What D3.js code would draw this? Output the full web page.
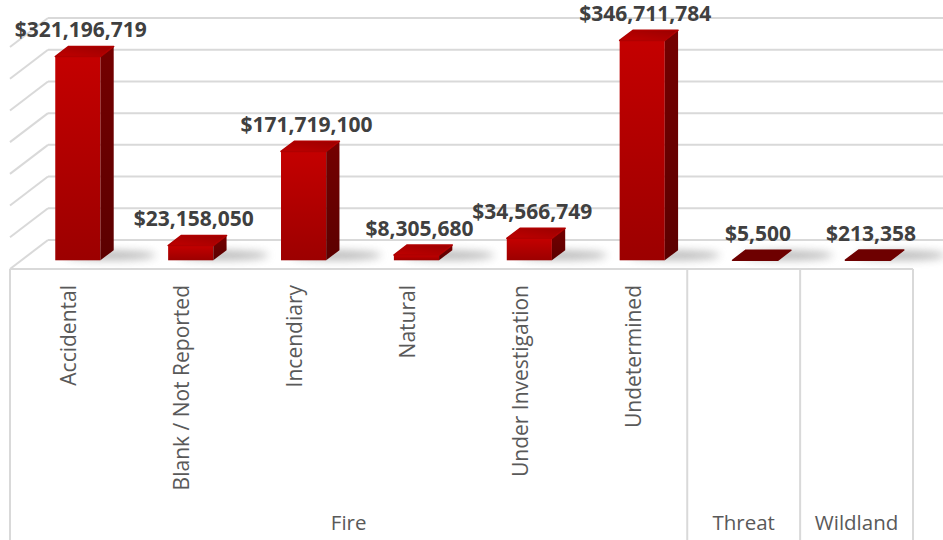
<!DOCTYPE html>
<html>
<head>
<meta charset="utf-8">
<script src="https://cdn.jsdelivr.net/npm/d3@7"></script>
<style>
  html, body { margin: 0; padding: 0; background: #ffffff; }
  svg { display: block; }
</style>
</head>
<body>
<svg id="chart" width="943" height="540"></svg>
<script>
// Fire loss by cause, grouped by incident type
const categories = ["Accidental", "Blank / Not Reported", "Incendiary", "Natural",
                    "Under Investigation", "Undetermined", "", ""];
const groupNames = ["Fire", "Fire", "Fire", "Fire", "Fire", "Fire", "Threat", "Wildland"];
const losses = [321196719, 23158050, 171719100, 8305680, 34566749, 346711784, 5500, 213358];
const yTicks = [0, 50e6, 100e6, 150e6, 200e6, 250e6, 300e6, 350e6];

const svg = d3.select("#chart");

// oblique 3D layout: front plane, and a depth vector pointing back/right
const frontLeft = 10, frontRight = 913, floorFront = 269;
const depth = { dx: 38, dy: -29 };
const barDepth0 = 0.30, barDepth1 = 0.65;

const slots = d3.range(categories.length);
const x = d3.scaleBand().domain(slots).range([frontLeft, frontRight]).padding(0);
const h = d3.scaleLinear().domain([0, 350e6]).range([0, 222]);
const fmt = d3.format("$,");

const defs = svg.append("defs");
const gFront = defs.append("linearGradient").attr("id", "front")
  .attr("x1", 0).attr("y1", 0).attr("x2", 0).attr("y2", 1);
gFront.append("stop").attr("offset", "0%").attr("stop-color", "#c40000");
gFront.append("stop").attr("offset", "100%").attr("stop-color", "#9c0000");
const gSide = defs.append("linearGradient").attr("id", "side")
  .attr("x1", 0).attr("y1", 0).attr("x2", 0).attr("y2", 1);
gSide.append("stop").attr("offset", "0%").attr("stop-color", "#740000");
gSide.append("stop").attr("offset", "100%").attr("stop-color", "#5c0000");
const gTop = defs.append("linearGradient").attr("id", "top")
  .attr("x1", 0).attr("y1", 1).attr("x2", 1).attr("y2", 0);
gTop.append("stop").attr("offset", "0%").attr("stop-color", "#c00000");
gTop.append("stop").attr("offset", "100%").attr("stop-color", "#9a0000");
defs.append("filter").attr("id", "soft").attr("x", "-50%").attr("y", "-200%")
  .attr("width", "200%").attr("height", "500%")
  .append("feGaussianBlur").attr("stdDeviation", 4.5);

const grid = "#d9d9d9";
const wallLeft = frontLeft + depth.dx;
const wallBottom = floorFront + depth.dy;

// back wall gridlines and the matching lines on the left wall
const gGrid = svg.append("g");
yTicks.forEach(v => {
  const gy = wallBottom - h(v);
  gGrid.append("line").attr("x1", wallLeft).attr("x2", 943)
    .attr("y1", gy).attr("y2", gy).attr("stroke", grid).attr("stroke-width", 2);
  gGrid.append("line").attr("x1", wallLeft).attr("y1", gy)
    .attr("x2", frontLeft).attr("y2", gy - depth.dy)
    .attr("stroke", grid).attr("stroke-width", 2);
});

// floor front edge
svg.append("line").attr("x1", frontLeft).attr("x2", frontRight)
  .attr("y1", floorFront).attr("y2", floorFront)
  .attr("stroke", grid).attr("stroke-width", 2);

// category axis frame: outer lines and group dividers
const groups = [];
groupNames.forEach((g, i) => {
  const last = groups[groups.length - 1];
  if (last && last.name === g) last.end = i; else groups.push({ name: g, start: i, end: i });
});
const frameBottom = 540;
svg.append("line").attr("x1", frontLeft).attr("x2", frontLeft)
  .attr("y1", floorFront).attr("y2", frameBottom).attr("stroke", grid).attr("stroke-width", 2);
groups.forEach(g => {
  const xr = x(g.end) + x.bandwidth();
  svg.append("line").attr("x1", xr).attr("x2", xr)
    .attr("y1", floorFront).attr("y2", frameBottom).attr("stroke", grid).attr("stroke-width", 2);
  const xl = x(g.start);
  svg.append("text").attr("x", (xl + xr) / 2).attr("y", 530)
    .attr("text-anchor", "middle")
    .attr("font-family", "'Open Sans', sans-serif").attr("font-size", 20.5)
    .attr("fill", "#595959").text(g.name);
});

// rotated category labels
categories.forEach((c, i) => {
  if (!c) return;
  const cx = x(i) + x.bandwidth() / 2 + 10;
  svg.append("text")
    .attr("transform", `translate(${cx},285) rotate(-90)`)
    .attr("text-anchor", "end")
    .attr("font-family", "'Open Sans', sans-serif").attr("font-size", 21)
    .attr("fill", "#595959").text(c);
});

// bars
const barW = x.bandwidth() * 0.4;
const off0 = { dx: depth.dx * barDepth0, dy: depth.dy * barDepth0 };
const dd = { dx: depth.dx * (barDepth1 - barDepth0), dy: depth.dy * (barDepth1 - barDepth0) };
const baseY = floorFront + off0.dy;

const bars = svg.append("g");
losses.forEach((v, i) => {
  const xl = x(i) + x.bandwidth() / 2 + off0.dx - barW / 2;
  const xr = xl + barW;
  const top = baseY - h(v);

  // soft shadow on the floor
  bars.append("ellipse")
    .attr("cx", xr + 10).attr("cy", baseY - 5)
    .attr("rx", barW * 1.0).attr("ry", 4.5)
    .attr("fill", "#7a7a7a").attr("opacity", 0.55)
    .attr("filter", "url(#soft)");

  // front face
  bars.append("rect").attr("x", xl).attr("y", top)
    .attr("width", barW).attr("height", Math.max(0, baseY - top))
    .attr("fill", "url(#front)");
  // side face
  bars.append("path")
    .attr("d", `M${xr},${top}L${xr + dd.dx},${top + dd.dy}L${xr + dd.dx},${baseY + dd.dy}L${xr},${baseY}Z`)
    .attr("fill", "url(#side)");
  // top face
  const flat = baseY - top < 2;
  bars.append("path")
    .attr("d", `M${xl},${top}L${xl + dd.dx},${top + dd.dy}L${xr + dd.dx},${top + dd.dy}L${xr},${top}Z`)
    .attr("fill", flat ? "#6e0000" : "url(#top)")
    .attr("stroke", flat ? "#6e0000" : "#b00000").attr("stroke-width", 1.5)
    .attr("stroke-linejoin", "round");

  // value label
  svg.append("text")
    .attr("x", xl + barW / 2 + 3).attr("y", top + dd.dy - 9)
    .attr("text-anchor", "middle")
    .attr("font-family", "'Open Sans', sans-serif").attr("font-weight", 700)
    .attr("font-size", 21).attr("fill", "#404040")
    .text(fmt(v));
});
</script>
</body>
</html>
